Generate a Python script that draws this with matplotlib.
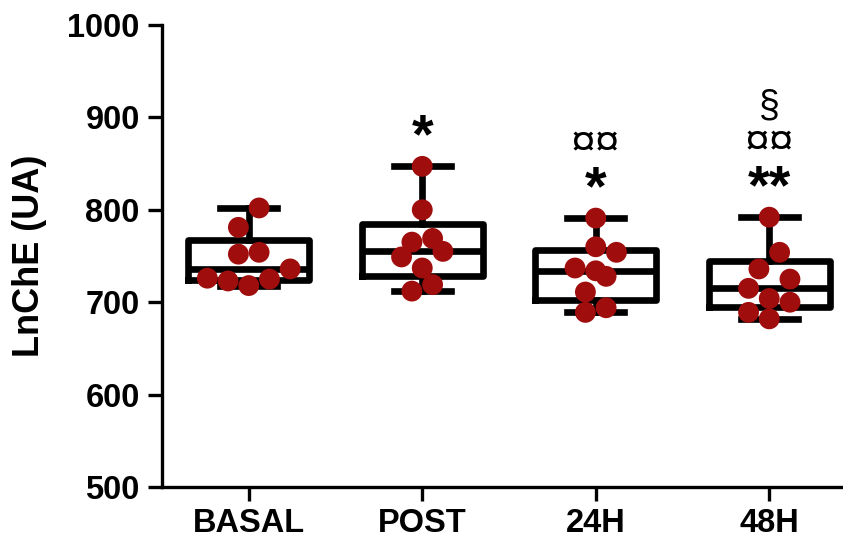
import numpy as np
import matplotlib.pyplot as plt

# values (LnChE, arbitrary units)
groups = ["BASAL", "POST", "24H", "48H"]
basal = [802, 781, 754, 752, 736, 725, 718, 723, 726]
post = [847, 800, 769, 765, 755, 749, 737, 719, 712]
h24 = [791, 760, 754, 737, 734, 728, 711, 694, 689]
h48 = [792, 754, 736, 725, 715, 704, 700, 689, 682]
# significance marks, bottom row first
marks = [[], ["*"], ["*", "¤¤"], ["**", "¤¤", "§"]]

DOT = "#A00D0D"
FIG_W, FIG_H = 843, 541
AX_L, AX_B, AX_T = 162, 487, 25   # pixel edges of the plot area
XLIM = (-0.5, 3.425)
YLIM = (500, 1000)

plt.rcParams["font.family"] = ["Liberation Sans", "DejaVu Sans"]
plt.rcParams["font.weight"] = "bold"

fig = plt.figure(figsize=(FIG_W / 100, FIG_H / 100), dpi=100)
ax = fig.add_axes([AX_L / FIG_W, 1 - AX_B / FIG_H,
                   1 - AX_L / FIG_W, (AX_B - AX_T) / FIG_H])
ax.set_xlim(*XLIM)
ax.set_ylim(*YLIM)

px_per_x = (FIG_W - AX_L) / (XLIM[1] - XLIM[0])
px_per_y = (AX_B - AX_T) / (YLIM[1] - YLIM[0])


def box_stats(vals):
    # Prism-style quartiles: position p*(n+1)
    v = np.asarray(vals, float)
    q1, med, q3 = np.percentile(v, [25, 50, 75], method="weibull")
    return dict(med=med, q1=q1, q3=q3, whislo=v.min(), whishi=v.max(), fliers=[])


def row_offsets(vals, diam=20.0, step=20.7):
    # put points into horizontal rows (one dot high), centre each row
    v = np.asarray(vals, float)
    order = np.argsort(v)
    offs = np.zeros(len(v))
    bin_h = diam / px_per_y
    start = v[order[0]]
    row = []
    for idx in list(order) + [None]:
        if idx is not None and v[idx] < start + bin_h:
            row.append(idx)
            continue
        k = len(row)
        # lowest value goes in the middle, others alternate outwards
        slots = sorted(range(k), key=lambda j: abs(j - (k - 1) / 2))
        for j, r in zip(slots, row):
            offs[r] = (j - (k - 1) / 2) * step / px_per_x
        if idx is not None:
            row = [idx]
            start = v[idx]
    return offs


data = [basal, post, h24, h48]
stats = [box_stats(d) for d in data]
lw = 4.8
ax.bxp(stats, positions=range(len(groups)), widths=0.70, capwidths=0.33,
       showfliers=False,
       boxprops=dict(color="black", linewidth=lw, solid_joinstyle="round"),
       medianprops=dict(color="black", linewidth=lw),
       whiskerprops=dict(color="black", linewidth=lw),
       capprops=dict(color="black", linewidth=lw))

for i, d in enumerate(data):
    xs = i + row_offsets(d)
    ax.scatter(xs, d, s=15 ** 2, color=DOT, edgecolor="none", zorder=5)

# significance symbols stacked above each group
sizes = {"*": 40, "**": 40, "¤¤": 32, "§": 27}
for i, d in enumerate(data):
    for k, m in enumerate(marks[i]):
        off = 37 + 37 * k - (9 if "*" in m else 0)
        ax.annotate(m, xy=(i, max(d)), xytext=(0, off),
                    textcoords="offset pixels", ha="center", va="center",
                    fontsize=sizes[m],
                    fontweight="bold" if "*" in m else "normal")

ax.set_xticks(range(len(groups)))
ax.set_xticklabels(groups)
ax.set_yticks(np.arange(500, 1001, 100))
ax.set_ylabel("LnChE (UA)", fontsize=26, fontweight="bold", labelpad=15)

for s in ["top", "right"]:
    ax.spines[s].set_visible(False)
for s in ["left", "bottom"]:
    ax.spines[s].set_linewidth(2.4)
ax.tick_params(axis="both", length=10, width=2.4, labelsize=23.5)
ax.tick_params(axis="x", pad=5)
ax.tick_params(axis="y", pad=6)

fig.savefig("out.png", dpi=100)
